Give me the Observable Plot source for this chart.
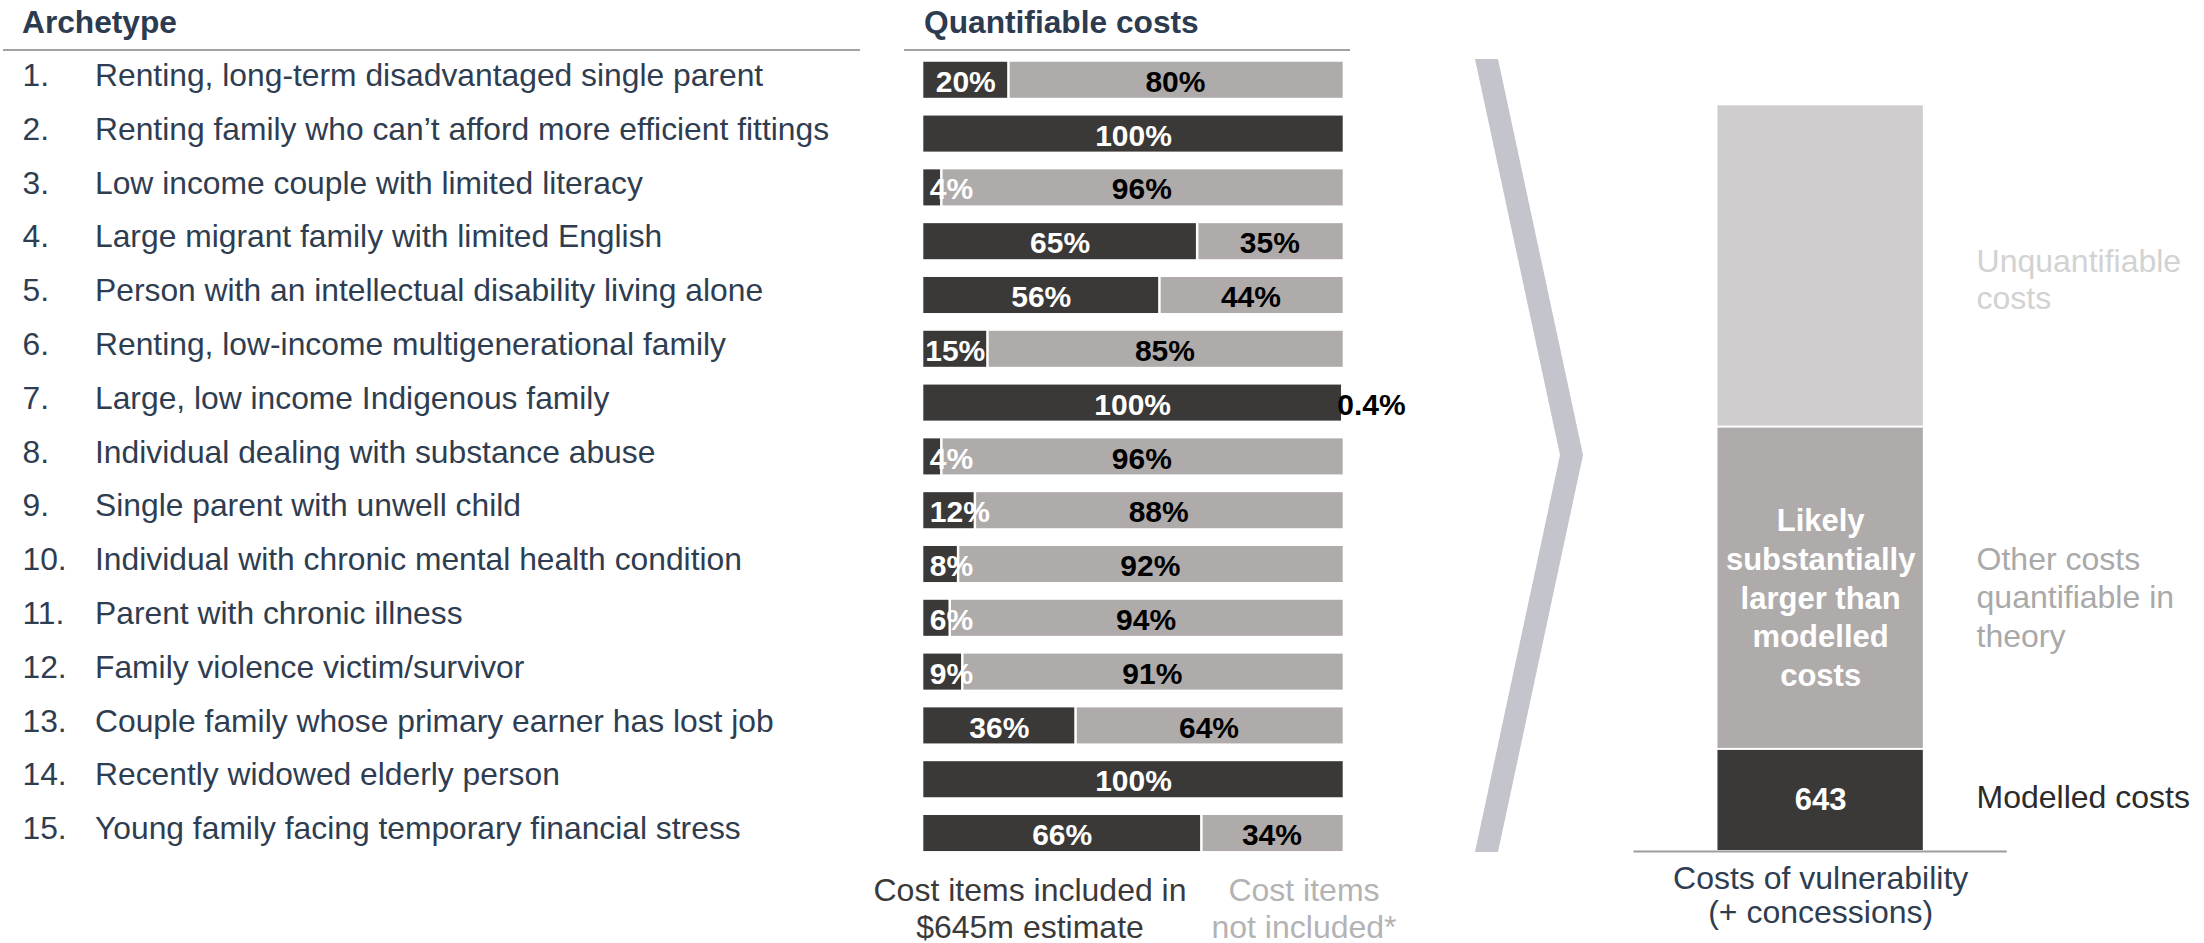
<!DOCTYPE html>
<html>
<head>
<meta charset="utf-8">
<script src="https://cdn.jsdelivr.net/npm/d3@7"></script>
<script src="https://cdn.jsdelivr.net/npm/@observablehq/plot@0.6"></script>
<style>
  html, body { margin: 0; padding: 0; background: #ffffff; }
  #wrap { position: relative; width: 2204px; height: 943px; overflow: hidden;
          font-family: "Liberation Sans", Arial, Helvetica, sans-serif; }
  .abs { position: absolute; white-space: pre; }
  .hdr { font-weight: bold; font-size: 31.7px; line-height: 31px; color: #2d3b50; }
  .rule { position: absolute; height: 2px; background: #a2a2a2; }
  .cap { font-size: 32px; line-height: 37px; text-align: center; width: 420px; }
</style>
</head>
<body>
<div id="wrap">
  <div class="abs hdr" style="left:22px; top:7.2px;">Archetype</div>
  <div class="rule" style="left:3px; top:48.5px; width:857px;"></div>
  <div class="abs hdr" style="left:924px; top:7.2px;">Quantifiable costs</div>
  <div class="rule" style="left:904px; top:48.5px; width:446px;"></div>

  <div id="plot1" class="abs" style="left:0px; top:0px; width:1420px; height:943px;"></div>

  <svg class="abs" style="left:0; top:0;" width="2204" height="943" aria-hidden="true">
    <polygon points="1475,59 1498,59 1583,455 1498,852 1475,852 1560,455" fill="#c3c4cc"></polygon>
  </svg>

  <div id="plot2" class="abs" style="left:1600px; top:0px; width:604px; height:943px;"></div>

  <div class="abs cap" style="left:820px; top:871.5px; color:#3a3a3a;">Cost items included in
$645m estimate</div>
  <div class="abs cap" style="left:1094px; top:871.5px; color:#b3b3b3;">Cost items
not included*</div>
</div>

<script>
// ---------------- data ----------------
const archetypes = [
  "Renting, long-term disadvantaged single parent",
  "Renting family who can\u2019t afford more efficient fittings",
  "Low income couple with limited literacy",
  "Large migrant family with limited English",
  "Person with an intellectual disability living alone",
  "Renting, low-income multigenerational family",
  "Large, low income Indigenous family",
  "Individual dealing with substance abuse",
  "Single parent with unwell child",
  "Individual with chronic mental health condition",
  "Parent with chronic illness",
  "Family violence victim/survivor",
  "Couple family whose primary earner has lost job",
  "Recently widowed elderly person",
  "Young family facing temporary financial stress"
];
const includedPct = [20, 100, 4, 65, 56, 15, 99.6, 4, 12, 8, 6, 9, 36, 100, 66];
const excludedPct = [80, 0, 96, 35, 44, 85, 0.4, 96, 88, 92, 94, 91, 64, 0, 34];

const vulnCategory = "Costs of vulnerability\n(+ concessions)";
const vulnParts = ["Modelled costs", "Other costs quantifiable in theory", "Unquantifiable costs"];
const vulnValues = [643, 2030, 2030];   // only 643 is stated; the other two are illustrative heights
const vulnBarLabels = ["643", "Likely\nsubstantially\nlarger than\nmodelled\ncosts", ""];
const vulnSideLabels = ["Modelled costs", "Other costs\nquantifiable in\ntheory", "Unquantifiable\ncosts"];

// ---------------- styles ----------------
const FONT = "'Liberation Sans', Arial, Helvetica, sans-serif";
const DARK = "#3a3937";
const GRAY = "#afabaa";
const LIGHT = "#cfcdce";
const SLATE = "#2f3d51";
const NARROW = 14; // segments below this share cannot hold their label centred

// ---------------- left chart ----------------
const rows = archetypes.map((name, i) => ({
  name, num: `${i + 1}.`, inc: includedPct[i], exc: excludedPct[i]
}));

const barLabel = {fill: "white", fontWeight: "bold", fontSize: 30, dy: 2};

const plot1 = Plot.plot({
  width: 1420,
  height: 943,
  marginLeft: 923.3,
  marginRight: 77.3,
  marginTop: 44,
  marginBottom: 74.2,
  x: {domain: [0, 100], axis: null},
  y: {domain: archetypes, padding: 0.33, round: false, axis: null},
  style: {fontFamily: FONT, background: "transparent", overflow: "visible"},
  marks: [
    Plot.barX(rows, {y: "name", x1: 0, x2: "inc", fill: DARK}),
    Plot.barX(rows.filter(d => d.exc > 0), {y: "name", x1: "inc", x2: 100, fill: GRAY, insetLeft: 2.5}),
    Plot.text(rows.filter(d => d.inc >= NARROW), {
      y: "name", x: d => d.inc / 2, text: d => `${Math.round(d.inc)}%`, ...barLabel
    }),
    Plot.text(rows.filter(d => d.inc < NARROW), {
      y: "name", x: 0, text: d => `${Math.round(d.inc)}%`, textAnchor: "start", dx: 6, ...barLabel
    }),
    Plot.text(rows.filter(d => d.exc >= 1), {
      y: "name", x: d => d.inc + d.exc / 2, text: d => `${d.exc}%`,
      fill: "black", fontWeight: "bold", fontSize: 30, dy: 2
    }),
    Plot.text(rows.filter(d => d.exc > 0 && d.exc < 1), {
      y: "name", x: 100, text: d => `${d.exc}%`, textAnchor: "start", dx: -6,
      fill: "black", fontWeight: "bold", fontSize: 30, dy: 2
    }),
    Plot.text(rows, {
      y: "name", frameAnchor: "left", text: "num", textAnchor: "start", dx: -901.3,
      fill: SLATE, fontSize: 31.8, dy: -4.5
    }),
    Plot.text(rows, {
      y: "name", frameAnchor: "left", text: "name", textAnchor: "start", dx: -828.8,
      fill: SLATE, fontSize: 31.8, dy: -4.5
    })
  ]
});
document.getElementById("plot1").appendChild(plot1);

// ---------------- right chart ----------------
const vulnRows = vulnParts.map((part, i) => ({
  cat: vulnCategory, part, value: vulnValues[i],
  inside: vulnBarLabels[i], side: vulnSideLabels[i]
}));

const sideStyles = {
  "Modelled costs": {fill: "#2b2b2b", dy: -3, lineHeight: 1.15},
  "Other costs quantifiable in theory": {fill: "#a9a9a9", dy: 9, lineHeight: 1.19},
  "Unquantifiable costs": {fill: "#d2d2d2", dy: 13.5, lineHeight: 1.147}
};

const plot2 = Plot.plot({
  width: 604,
  height: 943,
  marginLeft: 33.5,
  marginRight: 197.2,
  marginTop: 103.3,
  marginBottom: 93,
  x: {domain: [vulnCategory], padding: 0.2902, round: false},
  y: {domain: [0, 4703], axis: null},
  color: {domain: vulnParts, range: [DARK, GRAY, LIGHT]},
  style: {fontFamily: FONT, background: "transparent", overflow: "visible", color: SLATE},
  marks: [
    Plot.barY(vulnRows, Plot.stackY({x: "cat", y: "value", fill: "part", insetTop: 2})),
    Plot.text(vulnRows, Plot.stackY({
      x: "cat", y: "value", text: d => d.part === "Modelled costs" ? d.inside : "",
      fill: "white", fontWeight: "bold", fontSize: 31, dy: 1
    })),
    Plot.text(vulnRows, Plot.stackY({
      x: "cat", y: "value", text: d => d.part === "Other costs quantifiable in theory" ? d.inside : "",
      fill: "white", fontWeight: "bold", fontSize: 31, lineHeight: 1.245, dy: 9
    })),
    ...vulnParts.map(p => Plot.text(vulnRows, Plot.stackY({
      x: "cat", y: "value", text: d => d.part === p ? d.side : "",
      textAnchor: "start", dx: 155.9, fontSize: 32,
      fill: sideStyles[p].fill, dy: sideStyles[p].dy, lineHeight: sideStyles[p].lineHeight
    }))),
    Plot.ruleY([0], {stroke: "#9d9d9d", strokeWidth: 2, dy: 1}),
    Plot.axisX({tickSize: 0, tickPadding: 14.3, fontSize: 32, lineHeight: 1.06, label: null, fill: SLATE})
  ]
});
document.getElementById("plot2").appendChild(plot2);
</script>
</body>
</html>
